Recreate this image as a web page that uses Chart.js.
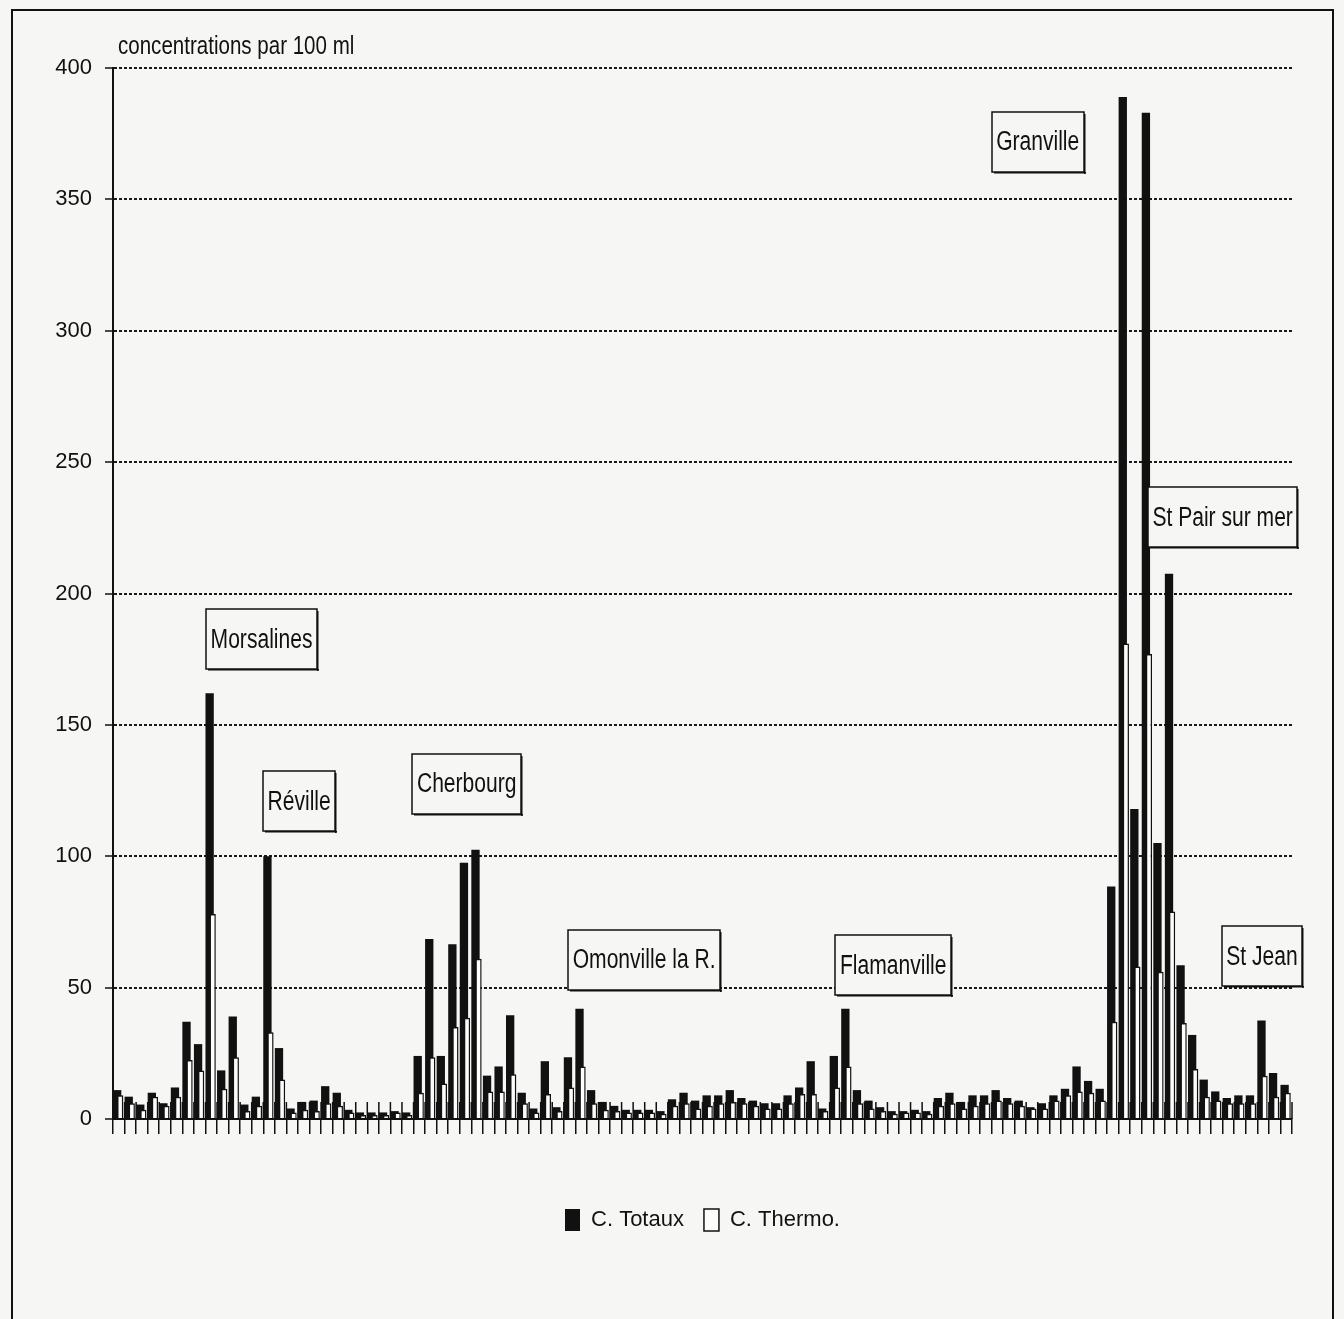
<!DOCTYPE html>
<html>
<head>
<meta charset="utf-8">
<title>Concentrations en coliformes</title>
<script src="https://cdn.jsdelivr.net/npm/chart.js@4.4.1/dist/chart.umd.min.js"></script>
<style>
  html, body { margin: 0; padding: 0; width: 1344px; height: 1319px; overflow: hidden; background: #f6f6f4; }
  #frame { position: absolute; left: 11px; top: 9px; width: 1323px; height: 1400px; border: 2px solid #111; box-sizing: border-box; }
  #chart { position: absolute; left: 0; top: 0; }
</style>
</head>
<body>
<div id="frame"></div>
<canvas id="chart" width="1344" height="1319"></canvas>
<script>
// Sampling stations along the coast, numbered in order
const stations = [
  1, 2, 3, 4, 5, 6, 7, 8, 9, 10, 11, 12, 13, 14, 15, 16, 17, 18, 19, 20,
  21, 22, 23, 24, 25, 26, 27, 28, 29, 30, 31, 32, 33, 34, 35, 36, 37, 38, 39, 40,
  41, 42, 43, 44, 45, 46, 47, 48, 49, 50, 51, 52, 53, 54, 55, 56, 57, 58, 59, 60,
  61, 62, 63, 64, 65, 66, 67, 68, 69, 70, 71, 72, 73, 74, 75, 76, 77, 78, 79, 80,
  81, 82, 83, 84, 85, 86, 87, 88, 89, 90, 91, 92, 93, 94, 95, 96, 97, 98, 99, 100,
  101, 102
];

// Coliformes totaux (per 100 ml)
const totaux = [
  11, 8.5, 5.5, 10, 6, 12, 37, 28.5, 162, 18.5,
  39, 5.5, 8.5, 100, 27, 4, 6.5, 7, 12.5, 10,
  3.5, 2.5, 2.5, 2.5, 3, 2.5, 24, 68.5, 24, 66.5,
  97.5, 102.5, 16.5, 20, 39.5, 10, 4, 22, 4.5, 23.5,
  42, 11, 6.5, 5, 3.5, 3.5, 3.5, 3, 7.5, 10,
  7, 9, 9, 11, 8, 7, 6, 6, 9, 12,
  22, 4, 24, 42, 11, 7, 4.5, 3, 3, 3.5,
  3, 8, 10, 6.5, 9, 9, 11, 8, 7, 4.5,
  6, 9, 11.5, 20, 14.5, 11.5, 88.5, 389, 118, 383,
  105, 207.5, 58.5, 32, 15, 10.5, 8, 9, 9, 37.5,
  17.5, 13
];

// Coliformes thermotolérants (per 100 ml)
const thermo = [
  9, 6, 3.5, 8.5, 5, 8.5, 22.5, 18.5, 78, 11.5,
  23.5, 3, 5, 33, 15, 2.5, 3.5, 3, 6, 5,
  2.5, 1.5, 1.5, 1.5, 2.5, 1.5, 10, 23.5, 13.5, 35,
  38.5, 61, 10.5, 10.5, 17, 6, 2.5, 9.5, 3, 12,
  20, 6, 3.5, 3, 2.5, 2.5, 2.5, 2, 5, 6,
  4, 5, 6, 6.5, 6, 5, 4, 4, 6, 9.5,
  9.5, 3, 12, 20, 6, 4, 3, 2, 2.5, 2.5,
  2, 5, 6, 4, 5, 6, 7, 6, 5, 4,
  4, 7, 9, 10.5, 10, 7, 37, 181, 58, 177,
  56, 79, 36.5, 19, 8.5, 7, 6, 6, 6, 16.5,
  8.5, 10
];

// Site names written over the profile
const sites = ['Morsalines', 'Réville', 'Cherbourg', 'Omonville la R.', 'Flamanville', 'Granville', 'St Pair sur mer', 'St Jean'];

const unitTitle = 'concentrations par 100 ml';

const FONT = "'Liberation Sans', Arial, sans-serif";
const INK = '#111111';
const PAPER = '#f6f6f4';

// Short tick marks crossing the axis between stations
const crossTicks = {
  id: 'crossTicks',
  beforeDatasetsDraw(chart) {
    const xs = chart.scales.x;
    const n = xs.getLabels().length;
    const step = xs.width / n;
    const y0 = chart.chartArea.bottom;
    const ctx = chart.ctx;
    ctx.save();
    ctx.strokeStyle = INK;
    ctx.lineWidth = 1.5;
    ctx.beginPath();
    for (let i = 0; i <= n; i++) {
      const x = xs.left + i * step;
      ctx.moveTo(x, y0);
      ctx.lineTo(x, y0 - 17);
    }
    ctx.stroke();
    ctx.restore();
  }
};

// Narrow lettering: a regular face squeezed horizontally
function narrowText(ctx, text, x, y, size, sx, align) {
  ctx.save();
  ctx.font = size + 'px ' + FONT;
  ctx.textAlign = align;
  ctx.translate(x, y);
  ctx.scale(sx, 1);
  ctx.fillText(text, 0, 0);
  ctx.restore();
}

// Unit caption above the value axis
const unitCaption = {
  id: 'unitCaption',
  afterDraw(chart, args, opts) {
    const ctx = chart.ctx, area = chart.chartArea;
    ctx.save();
    ctx.fillStyle = INK;
    ctx.textBaseline = 'alphabetic';
    narrowText(ctx, unitTitle, area.left + 5, area.top - 14, opts.size, opts.narrow, 'left');
    ctx.restore();
  }
};

// Boxed site names, placed in data coordinates
const siteBoxes = {
  id: 'siteBoxes',
  afterDatasetsDraw(chart, args, opts) {
    const xs = chart.scales.x, ys = chart.scales.y, ctx = chart.ctx;
    const sx = opts.narrow;
    ctx.save();
    ctx.font = opts.size + 'px ' + FONT;
    ctx.textBaseline = 'middle';
    opts.places.forEach((p, k) => {
      const text = sites[k];
      const w = Math.round(ctx.measureText(text).width * sx + 9);
      const h = 60;
      const cx = xs.getPixelForValue(p.at);
      const cy = ys.getPixelForValue(p.level);
      const x0 = Math.round(cx - w / 2), y0 = Math.round(cy - h / 2);
      ctx.fillStyle = PAPER;
      ctx.fillRect(x0, y0, w, h);
      ctx.fillStyle = INK;
      ctx.fillRect(x0 + 2, y0 + h, w, 1.5);
      ctx.fillRect(x0 + w, y0 + 2, 1.5, h);
      ctx.strokeStyle = INK;
      ctx.lineWidth = 1.5;
      ctx.strokeRect(x0, y0, w, h);
      narrowText(ctx, text, cx, cy + 1, opts.size, sx, 'center');
    });
    ctx.restore();
  }
};

new Chart(document.getElementById('chart'), {
  type: 'bar',
  data: {
    labels: stations,
    datasets: [
      {
        label: 'C. Totaux',
        data: totaux,
        xAxisID: 'xTot',
        yAxisID: 'y',
        grouped: false,
        backgroundColor: INK,
        borderWidth: 0,
        categoryPercentage: 1,
        barPercentage: 0.72,
        order: 1
      },
      {
        label: 'C. Thermo.',
        data: thermo,
        xAxisID: 'xThe',
        yAxisID: 'y',
        grouped: false,
        backgroundColor: '#fdfdfc',
        borderColor: INK,
        borderWidth: 1.5,
        categoryPercentage: 1,
        barPercentage: 0.55,
        order: 0
      }
    ]
  },
  options: {
    responsive: false,
    animation: false,
    devicePixelRatio: 1,
    layout: { padding: { top: 68, right: 52, bottom: 78, left: 0 } },
    scales: {
      x: {
        type: 'category',
        position: 'bottom',
        offset: true,
        ticks: { display: false, autoSkip: false },
        grid: { display: true, drawOnChartArea: false, drawTicks: true, tickLength: 15, offset: true, color: INK, lineWidth: 1.5 },
        border: { display: true, color: INK, width: 2 },
        afterFit(s) { s.height = 70; }
      },
      // the two series sit in each station slot, the second one overlapping the first
      xTot: {
        type: 'linear', position: 'bottom', display: false, offset: false,
        min: 0.64, max: 102.64, ticks: { stepSize: 10 }
      },
      xThe: {
        type: 'linear', position: 'bottom', display: false, offset: false,
        min: 0.38, max: 102.38, ticks: { stepSize: 10 }
      },
      y: {
        type: 'linear',
        position: 'left',
        min: 0,
        max: 400,
        ticks: { stepSize: 50, color: INK, padding: 13, font: { family: FONT, size: 22 } },
        grid: { color: '#1a1a1a', lineWidth: 2, drawTicks: true, tickLength: 8, tickColor: INK, tickWidth: 1.5 },
        border: { display: true, color: INK, width: 2, dash: [3, 2] },
        afterFit(s) { s.width = 113; }
      }
    },
    plugins: {
      title: { display: false },
      legend: {
        display: true,
        position: 'bottom',
        align: 'center',
        fullSize: false,
        labels: {
          boxWidth: 15,
          boxHeight: 22,
          padding: 20,
          color: INK,
          font: { family: FONT, size: 22 },
          sort: (a, b) => a.datasetIndex - b.datasetIndex
        }
      },
      tooltip: { enabled: false },
      unitCaption: { size: 26, narrow: 0.79 },
      siteBoxes: {
        size: 27,
        narrow: 0.78,
        places: [
          { at: 12.35, level: 182.5 },
          { at: 15.6, level: 121 },
          { at: 30.1, level: 127.5 },
          { at: 45.45, level: 60.5 },
          { at: 67, level: 58.5 },
          { at: 79.5, level: 372 },
          { at: 95.5, level: 229 },
          { at: 98.9, level: 62 }
        ]
      }
    }
  },
  plugins: [crossTicks, siteBoxes, unitCaption]
});
</script>
</body>
</html>
